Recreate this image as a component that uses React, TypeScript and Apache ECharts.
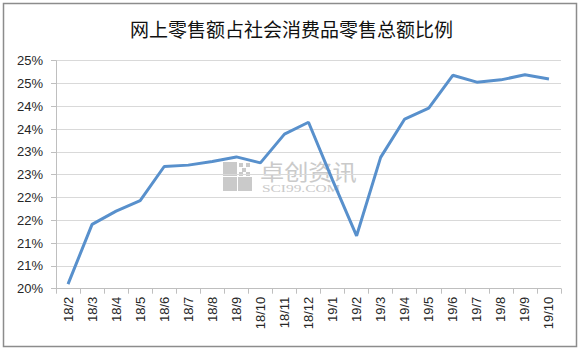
import React, { useEffect, useRef } from "react";
import * as echarts from "echarts";

const title = "网上零售额占社会消费品零售总额比例";
const categories = [
  "18/2", "18/3", "18/4", "18/5", "18/6", "18/7", "18/8", "18/9", "18/10", "18/11", "18/12",
  "19/1", "19/2", "19/3", "19/4", "19/5", "19/6", "19/7", "19/8", "19/9", "19/10",
];
const shareValues = [
  20.1, 21.41, 21.7, 21.93, 22.68, 22.71, 22.79, 22.89, 22.76, 23.39, 23.65,
  22.38, 21.16, 22.88, 23.72, 23.96, 24.68, 24.53, 24.58, 24.69, 24.6,
];
const yMin = 20;
const yMax = 25;
const yStep = 0.5;
const watermarkName = "卓创资讯";
const watermarkSite = "SCI99.COM";

export default function App() {
  const ref = useRef<HTMLDivElement>(null);
  useEffect(() => {
    if (!ref.current) return;
    const chart = echarts.init(ref.current, null, { renderer: "svg" });
    const wmGray = "#cacaca";
    chart.setOption({
      animation: false,
      backgroundColor: "#ffffff",
      title: {
        text: title,
        left: "center",
        top: 14,
        textStyle: {
          fontFamily: "Noto Sans CJK SC",
          fontSize: 19,
          fontWeight: "normal",
          color: "#111111",
        },
      },
      graphic: [
        {
          type: "rect",
          shape: { x: 3.5, y: 3.5, width: 573, height: 343 },
          style: { fill: "none", stroke: "#8c8c8c", lineWidth: 1.5 },
          z: 100,
        },
        {
          type: "group",
          z: 1,
          children: [
            { type: "rect", shape: { x: 223, y: 162, width: 14, height: 14 }, style: { fill: wmGray } },
            { type: "rect", shape: { x: 223, y: 177, width: 14, height: 14 }, style: { fill: wmGray } },
            { type: "rect", shape: { x: 238, y: 177, width: 14, height: 14 }, style: { fill: wmGray } },
            { type: "rect", shape: { x: 239, y: 163, width: 4, height: 4 }, style: { fill: wmGray } },
            { type: "rect", shape: { x: 246, y: 163, width: 4, height: 4 }, style: { fill: wmGray } },
            { type: "rect", shape: { x: 242, y: 168, width: 4, height: 4 }, style: { fill: wmGray } },
            { type: "rect", shape: { x: 239, y: 172, width: 4, height: 4 }, style: { fill: wmGray } },
            { type: "rect", shape: { x: 246, y: 172, width: 4, height: 4 }, style: { fill: wmGray } },
            {
              type: "text",
              x: 260,
              y: 159,
              scaleX: 1.1,
              style: {
                text: watermarkName,
                fontFamily: "Noto Sans CJK SC",
                fontSize: 22,
                fill: wmGray,
                verticalAlign: "top",
              },
            },
            {
              type: "text",
              x: 262,
              y: 183,
              scaleX: 1.4,
              style: {
                text: watermarkSite,
                fontFamily: "Liberation Serif",
                fontSize: 11,
                fill: wmGray,
                verticalAlign: "top",
              },
            },
          ],
        },
      ],
      grid: { left: 56, right: 22, top: 60.7, bottom: 65.3, containLabel: false },
      xAxis: {
        type: "category",
        data: categories,
        boundaryGap: true,
        axisLine: { lineStyle: { color: "#bfbfbf", width: 1 } },
        axisTick: { show: true, interval: 0, length: 5, lineStyle: { color: "#bfbfbf" } },
        axisLabel: {
          interval: 0,
          rotate: 90,
          margin: 8,
          fontFamily: "Liberation Sans",
          fontSize: 13,
          color: "#262626",
        },
      },
      yAxis: {
        type: "value",
        min: yMin,
        max: yMax,
        interval: yStep,
        axisLine: { show: true, lineStyle: { color: "#bfbfbf", width: 1 } },
        axisTick: { show: true, length: 5, lineStyle: { color: "#bfbfbf" } },
        splitLine: { lineStyle: { color: "#d9d9d9", width: 1 } },
        axisLabel: {
          margin: 13,
          fontFamily: "Liberation Sans",
          fontSize: 13,
          color: "#262626",
          formatter: (v: number) => Math.round(v) + "%",
        },
      },
      series: [
        {
          type: "line",
          data: shareValues,
          symbol: "none",
          lineStyle: { color: "#5890cc", width: 3 },
          z: 5,
        },
      ],
    });
    return () => chart.dispose();
  }, []);
  return (
    <div
      ref={ref}
      style={{ position: "fixed", left: 0, top: 0, width: 583, height: 354 }}
    />
  );
}
